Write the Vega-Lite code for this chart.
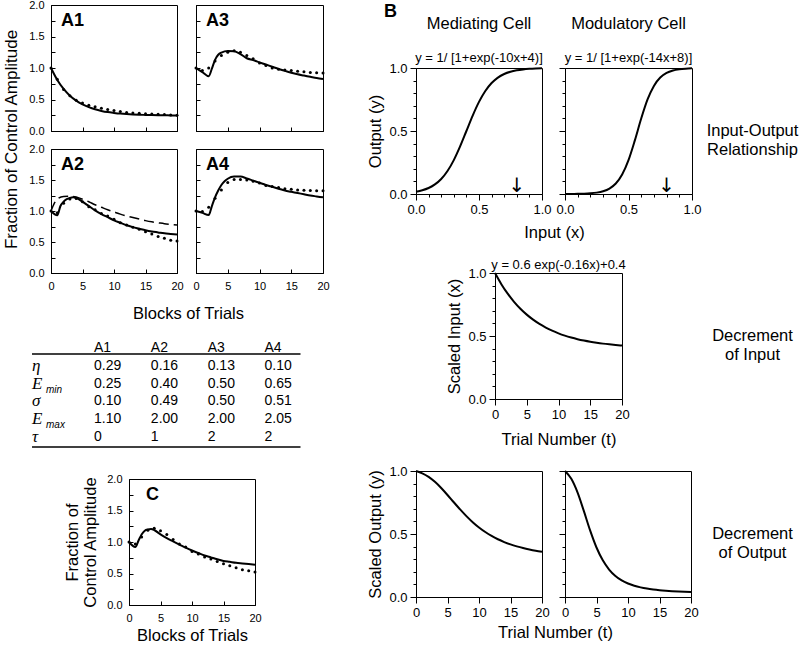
{
"$schema":"https://vega.github.io/schema/vega-lite/v6.json",
"background":"white",
"padding":{"left":2,"top":-2,"right":0,"bottom":0},
"config":{
 "font":"Liberation Sans",
 "view":{"stroke":"black","strokeWidth":1},
 "mark":{"color":"black"},
 "axis":{"domainColor":"black","tickColor":"black","labelColor":"black","titleColor":"black","titleFontWeight":"normal","labelFlush":false,"labelOverlap":false,"grid":false,"labelFont":"Liberation Sans","titleFont":"Liberation Sans"}
},
"datasets":{
 "A1m":[{"t":0,"v":1.0},{"t":1,"v":0.81},{"t":2,"v":0.668},{"t":3,"v":0.561},{"t":4,"v":0.482},{"t":5,"v":0.422},{"t":6,"v":0.378},{"t":7,"v":0.344},{"t":8,"v":0.319},{"t":9,"v":0.3},{"t":10,"v":0.287},{"t":11,"v":0.276},{"t":12,"v":0.268},{"t":13,"v":0.262},{"t":14,"v":0.258},{"t":15,"v":0.255},{"t":16,"v":0.252},{"t":17,"v":0.25},{"t":18,"v":0.249},{"t":19,"v":0.248},{"t":20,"v":0.247}],
 "A1d":[{"t":0,"v":1.0},{"t":1,"v":0.82},{"t":2,"v":0.66},{"t":3,"v":0.56},{"t":4,"v":0.49},{"t":5,"v":0.445},{"t":6,"v":0.41},{"t":7,"v":0.385},{"t":8,"v":0.36},{"t":9,"v":0.34},{"t":10,"v":0.325},{"t":11,"v":0.31},{"t":12,"v":0.295},{"t":13,"v":0.285},{"t":14,"v":0.28},{"t":15,"v":0.275},{"t":16,"v":0.27},{"t":17,"v":0.265},{"t":18,"v":0.26},{"t":19,"v":0.255},{"t":20,"v":0.25}],
 "A3m":[{"t":0,"v":1.0},{"t":1,"v":0.935},{"t":2,"v":0.87},{"t":2.5,"v":0.99},{"t":3,"v":1.13},{"t":3.5,"v":1.21},{"t":4,"v":1.245},{"t":5,"v":1.27},{"t":6,"v":1.265},{"t":7,"v":1.22},{"t":8,"v":1.155},{"t":9,"v":1.125},{"t":10,"v":1.09},{"t":11,"v":1.055},{"t":12,"v":1.02},{"t":13,"v":0.985},{"t":14,"v":0.955},{"t":15,"v":0.925},{"t":16,"v":0.9},{"t":17,"v":0.88},{"t":18,"v":0.86},{"t":19,"v":0.84},{"t":20,"v":0.825}],
 "A3d":[{"t":0,"v":1.0},{"t":1,"v":0.96},{"t":2,"v":1.0},{"t":3,"v":1.11},{"t":4,"v":1.2},{"t":5,"v":1.25},{"t":6,"v":1.275},{"t":7,"v":1.25},{"t":8,"v":1.2},{"t":9,"v":1.145},{"t":10,"v":1.08},{"t":11,"v":1.04},{"t":12,"v":1.0},{"t":13,"v":0.98},{"t":14,"v":0.97},{"t":15,"v":0.96},{"t":16,"v":0.95},{"t":17,"v":0.94},{"t":18,"v":0.93},{"t":19,"v":0.925},{"t":20,"v":0.92}],
 "A2m":[{"t":0,"v":1.0},{"t":1,"v":0.93},{"t":1.5,"v":1.08},{"t":2,"v":1.15},{"t":2.5,"v":1.19},{"t":3,"v":1.21},{"t":3.5,"v":1.22},{"t":4,"v":1.21},{"t":5,"v":1.15},{"t":6,"v":1.08},{"t":7,"v":1.01},{"t":8,"v":0.95},{"t":9,"v":0.9},{"t":10,"v":0.85},{"t":11,"v":0.81},{"t":12,"v":0.77},{"t":13,"v":0.74},{"t":14,"v":0.715},{"t":15,"v":0.69},{"t":16,"v":0.67},{"t":17,"v":0.655},{"t":18,"v":0.64},{"t":19,"v":0.63},{"t":20,"v":0.62}],
 "A2k":[{"t":0,"v":1.0},{"t":0.5,"v":1.12},{"t":1,"v":1.19},{"t":2,"v":1.235},{"t":3,"v":1.24},{"t":4,"v":1.225},{"t":5,"v":1.19},{"t":6,"v":1.15},{"t":7,"v":1.1},{"t":8,"v":1.06},{"t":9,"v":1.02},{"t":10,"v":0.985},{"t":11,"v":0.95},{"t":12,"v":0.92},{"t":13,"v":0.895},{"t":14,"v":0.87},{"t":15,"v":0.845},{"t":16,"v":0.825},{"t":17,"v":0.81},{"t":18,"v":0.795},{"t":19,"v":0.785},{"t":20,"v":0.775}],
 "A2d":[{"t":0,"v":1.0},{"t":1,"v":0.97},{"t":2,"v":1.125},{"t":3,"v":1.195},{"t":4,"v":1.2},{"t":5,"v":1.15},{"t":6,"v":1.07},{"t":7,"v":1.02},{"t":8,"v":0.96},{"t":9,"v":0.92},{"t":10,"v":0.866},{"t":11,"v":0.81},{"t":12,"v":0.775},{"t":13,"v":0.737},{"t":14,"v":0.705},{"t":15,"v":0.667},{"t":16,"v":0.63},{"t":17,"v":0.59},{"t":18,"v":0.56},{"t":19,"v":0.53},{"t":20,"v":0.515}],
 "A4m":[{"t":0,"v":1.0},{"t":1,"v":0.97},{"t":2,"v":0.935},{"t":2.5,"v":1.08},{"t":3,"v":1.22},{"t":3.5,"v":1.33},{"t":4,"v":1.42},{"t":4.5,"v":1.48},{"t":5,"v":1.52},{"t":6,"v":1.555},{"t":7,"v":1.555},{"t":8,"v":1.525},{"t":9,"v":1.49},{"t":10,"v":1.455},{"t":11,"v":1.42},{"t":12,"v":1.39},{"t":13,"v":1.36},{"t":14,"v":1.33},{"t":15,"v":1.31},{"t":16,"v":1.29},{"t":17,"v":1.27},{"t":18,"v":1.25},{"t":19,"v":1.235},{"t":20,"v":1.22}],
 "A4d":[{"t":0,"v":1.0},{"t":1,"v":0.99},{"t":2,"v":1.06},{"t":3,"v":1.205},{"t":4,"v":1.34},{"t":5,"v":1.46},{"t":6,"v":1.51},{"t":7,"v":1.51},{"t":8,"v":1.5},{"t":9,"v":1.48},{"t":10,"v":1.45},{"t":11,"v":1.41},{"t":12,"v":1.395},{"t":13,"v":1.38},{"t":14,"v":1.36},{"t":15,"v":1.35},{"t":16,"v":1.34},{"t":17,"v":1.335},{"t":18,"v":1.33},{"t":19,"v":1.325},{"t":20,"v":1.325}],
 "Cm":[{"t":0,"v":1.0},{"t":1,"v":0.92},{"t":1.5,"v":1.02},{"t":2,"v":1.12},{"t":2.5,"v":1.18},{"t":3,"v":1.2},{"t":3.5,"v":1.206},{"t":4,"v":1.19},{"t":5,"v":1.12},{"t":6,"v":1.06},{"t":7,"v":1.01},{"t":8,"v":0.96},{"t":9,"v":0.91},{"t":10,"v":0.865},{"t":11,"v":0.825},{"t":12,"v":0.785},{"t":13,"v":0.755},{"t":14,"v":0.725},{"t":15,"v":0.7},{"t":16,"v":0.685},{"t":17,"v":0.67},{"t":18,"v":0.66},{"t":19,"v":0.65},{"t":20,"v":0.64}],
 "Cd":[{"t":0,"v":1.0},{"t":1,"v":0.97},{"t":2,"v":1.08},{"t":3,"v":1.185},{"t":4,"v":1.22},{"t":5,"v":1.18},{"t":6,"v":1.12},{"t":7,"v":1.04},{"t":8,"v":0.97},{"t":9,"v":0.92},{"t":10,"v":0.85},{"t":11,"v":0.81},{"t":12,"v":0.76},{"t":13,"v":0.73},{"t":14,"v":0.69},{"t":15,"v":0.655},{"t":16,"v":0.625},{"t":17,"v":0.59},{"t":18,"v":0.56},{"t":19,"v":0.545},{"t":20,"v":0.525}],
 "med":[{"x":0,"y":0.018},{"x":0.05,"y":0.0293},{"x":0.1,"y":0.0474},{"x":0.15,"y":0.0759},{"x":0.2,"y":0.1192},{"x":0.25,"y":0.1824},{"x":0.3,"y":0.2689},{"x":0.35,"y":0.3775},{"x":0.4,"y":0.5},{"x":0.45,"y":0.6225},{"x":0.5,"y":0.7311},{"x":0.55,"y":0.8176},{"x":0.6,"y":0.8808},{"x":0.65,"y":0.9241},{"x":0.7,"y":0.9526},{"x":0.75,"y":0.9707},{"x":0.8,"y":0.982},{"x":0.85,"y":0.989},{"x":0.9,"y":0.9933},{"x":0.95,"y":0.9959},{"x":1,"y":0.9975}],
 "mod":[{"x":0,"y":0.0003},{"x":0.05,"y":0.0007},{"x":0.1,"y":0.0014},{"x":0.15,"y":0.0027},{"x":0.2,"y":0.0055},{"x":0.25,"y":0.011},{"x":0.3,"y":0.0219},{"x":0.35,"y":0.0431},{"x":0.4,"y":0.0832},{"x":0.45,"y":0.1545},{"x":0.5,"y":0.2689},{"x":0.55,"y":0.4256},{"x":0.6,"y":0.5987},{"x":0.65,"y":0.7503},{"x":0.7,"y":0.8581},{"x":0.75,"y":0.9241},{"x":0.8,"y":0.9608},{"x":0.85,"y":0.9802},{"x":0.9,"y":0.99},{"x":0.95,"y":0.995},{"x":1,"y":0.9975}],
 "sin":[{"t":0,"v":1},{"t":1,"v":0.9113},{"t":2,"v":0.8357},{"t":3,"v":0.7713},{"t":4,"v":0.7164},{"t":5,"v":0.6696},{"t":6,"v":0.6297},{"t":7,"v":0.5958},{"t":8,"v":0.5668},{"t":9,"v":0.5421},{"t":10,"v":0.5211},{"t":11,"v":0.5032},{"t":12,"v":0.488},{"t":13,"v":0.4749},{"t":14,"v":0.4639},{"t":15,"v":0.4544},{"t":16,"v":0.4464},{"t":17,"v":0.4395},{"t":18,"v":0.4337},{"t":19,"v":0.4287},{"t":20,"v":0.4245}],
 "outMed":[{"t":0,"v":1},{"t":1,"v":0.9818},{"t":2,"v":0.9533},{"t":3,"v":0.914},{"t":4,"v":0.8651},{"t":5,"v":0.8098},{"t":6,"v":0.7519},{"t":7,"v":0.6952},{"t":8,"v":0.6421},{"t":9,"v":0.5941},{"t":10,"v":0.552},{"t":11,"v":0.5157},{"t":12,"v":0.4847},{"t":13,"v":0.4582},{"t":14,"v":0.4361},{"t":15,"v":0.4173},{"t":16,"v":0.4016},{"t":17,"v":0.3883},{"t":18,"v":0.3772},{"t":19,"v":0.3677},{"t":20,"v":0.3599}],
 "outMod":[{"t":0,"v":1},{"t":1,"v":0.9376},{"t":2,"v":0.8282},{"t":3,"v":0.6811},{"t":4,"v":0.5266},{"t":5,"v":0.3928},{"t":6,"v":0.2908},{"t":7,"v":0.2182},{"t":8,"v":0.1674},{"t":9,"v":0.1321},{"t":10,"v":0.1073},{"t":11,"v":0.0895},{"t":12,"v":0.0765},{"t":13,"v":0.0667},{"t":14,"v":0.0594},{"t":15,"v":0.0537},{"t":16,"v":0.0493},{"t":17,"v":0.0458},{"t":18,"v":0.0431},{"t":19,"v":0.0408},{"t":20,"v":0.039}],
 "params":[
  {"key":"η","sym":"η","sub":"","A1":"0.29","A2":"0.16","A3":"0.13","A4":"0.10"},
  {"key":"Emin","sym":"E","sub":"min","A1":"0.25","A2":"0.40","A3":"0.50","A4":"0.65"},
  {"key":"σ","sym":"σ","sub":"","A1":"0.10","A2":"0.49","A3":"0.50","A4":"0.51"},
  {"key":"Emax","sym":"E","sub":"max","A1":"1.10","A2":"2.00","A3":"2.00","A4":"2.05"},
  {"key":"τ","sym":"τ","sub":"","A1":"0","A2":"1","A3":"2","A4":"2"}
 ],
 "one":[{}]
},
"bounds":"flush",
"spacing":0,
"hconcat":[
 {
  "bounds":"flush",
  "spacing":0,
  "vconcat":[
   {"bounds":"flush","spacing":19,"hconcat":[
    {"width":126,"height":126,"resolve":{"axis":{"x":"independent","y":"independent"}},"layer":[
     {"data":{"name":"A1m"},"mark":{"type":"line","interpolate":"monotone","strokeWidth":2},
      "encoding":{
       "x":{"field":"t","type":"quantitative","scale":{"domain":[0,20],"nice":false},"axis":{"values":[0,5,10,15,20],"labels":false,"tickSize":-4,"labelOverlap":false,"title":null}},
       "y":{"field":"v","type":"quantitative","scale":{"domain":[0,2],"nice":false},"axis":{"values":[0,0.25,0.5,0.75,1,1.25,1.5,1.75,2],"format":".1f","labelExpr":"datum.value % 0.5 === 0 ? datum.label : ''","labelOverlap":false,"tickSize":-4,"labelPadding":11,"labelFontSize":11,"title":"Fraction of Control Amplitude","titleFontSize":17,"titleY":134,"titlePadding":8}}}},
     {"data":{"name":"A1d"},"mark":{"type":"circle","size":9,"opacity":1},
      "encoding":{"x":{"field":"t","type":"quantitative","axis":null},"y":{"field":"v","type":"quantitative","axis":null}}},
     {"data":{"name":"one"},"mark":{"type":"text","text":"A1","fontSize":18,"fontWeight":"bold","align":"left","baseline":"middle","dx":10,"dy":15.5},
      "encoding":{"x":{"datum":0,"axis":null},"y":{"datum":2,"axis":null}}}
    ]},
    {"width":127,"height":126,"resolve":{"axis":{"x":"independent","y":"independent"}},"layer":[
     {"data":{"name":"A3m"},"mark":{"type":"line","interpolate":"monotone","strokeWidth":2},
      "encoding":{
       "x":{"field":"t","type":"quantitative","scale":{"domain":[0,20],"nice":false},"axis":{"values":[0,5,10,15,20],"labels":false,"tickSize":-4,"title":null}},
       "y":{"field":"v","type":"quantitative","scale":{"domain":[0,2],"nice":false},"axis":{"values":[0,0.25,0.5,0.75,1,1.25,1.5,1.75,2],"labels":false,"tickSize":-4,"title":null}}}},
     {"data":{"name":"A3d"},"mark":{"type":"circle","size":9,"opacity":1},
      "encoding":{"x":{"field":"t","type":"quantitative","axis":null},"y":{"field":"v","type":"quantitative","axis":null}}},
     {"data":{"name":"one"},"mark":{"type":"text","text":"A3","fontSize":18,"fontWeight":"bold","align":"left","baseline":"middle","dx":10,"dy":15.5},
      "encoding":{"x":{"datum":0,"axis":null},"y":{"datum":2,"axis":null}}}
    ]}
   ]},
   {"width":1,"height":144,"data":{"values":[]},"mark":"point","view":{"stroke":null}},
   {"bounds":"flush","spacing":19,"hconcat":[
    {"width":126,"height":124,"resolve":{"axis":{"x":"independent","y":"independent"}},"layer":[
     {"data":{"name":"A2m"},"mark":{"type":"line","interpolate":"monotone","strokeWidth":2},
      "encoding":{
       "x":{"field":"t","type":"quantitative","scale":{"domain":[0,20],"nice":false},"axis":{"values":[0,5,10,15,20],"tickSize":-4,"labelPadding":11,"labelFontSize":11,"labelOverlap":false,"title":"Blocks of Trials","titleFontSize":16.5,"titleX":137,"titleY":40,"titleBaseline":"middle"}},
       "y":{"field":"v","type":"quantitative","scale":{"domain":[0,2],"nice":false},"axis":{"values":[0,0.25,0.5,0.75,1,1.25,1.5,1.75,2],"format":".1f","labelExpr":"datum.value % 0.5 === 0 ? datum.label : ''","labelOverlap":false,"tickSize":-4,"labelPadding":11,"labelFontSize":11,"title":null}}}},
     {"data":{"name":"A2k"},"mark":{"type":"line","interpolate":"monotone","strokeWidth":1.5,"strokeDash":[10,5]},
      "encoding":{"x":{"field":"t","type":"quantitative","axis":null},"y":{"field":"v","type":"quantitative","axis":null}}},
     {"data":{"name":"A2d"},"mark":{"type":"circle","size":9,"opacity":1},
      "encoding":{"x":{"field":"t","type":"quantitative","axis":null},"y":{"field":"v","type":"quantitative","axis":null}}},
     {"data":{"name":"one"},"mark":{"type":"text","text":"A2","fontSize":18,"fontWeight":"bold","align":"left","baseline":"middle","dx":10,"dy":15.5},
      "encoding":{"x":{"datum":0,"axis":null},"y":{"datum":2,"axis":null}}}
    ]},
    {"width":127,"height":124,"resolve":{"axis":{"x":"independent","y":"independent"}},"layer":[
     {"data":{"name":"A4m"},"mark":{"type":"line","interpolate":"monotone","strokeWidth":2},
      "encoding":{
       "x":{"field":"t","type":"quantitative","scale":{"domain":[0,20],"nice":false},"axis":{"values":[0,5,10,15,20],"tickSize":-4,"labelPadding":11,"labelFontSize":11,"labelOverlap":false,"title":null}},
       "y":{"field":"v","type":"quantitative","scale":{"domain":[0,2],"nice":false},"axis":{"values":[0,0.25,0.5,0.75,1,1.25,1.5,1.75,2],"labels":false,"tickSize":-4,"title":null}}}},
     {"data":{"name":"A4d"},"mark":{"type":"circle","size":9,"opacity":1},
      "encoding":{"x":{"field":"t","type":"quantitative","axis":null},"y":{"field":"v","type":"quantitative","axis":null}}},
     {"data":{"name":"one"},"mark":{"type":"text","text":"A4","fontSize":18,"fontWeight":"bold","align":"left","baseline":"middle","dx":10,"dy":15.5},
      "encoding":{"x":{"datum":0,"axis":null},"y":{"datum":2,"axis":null}}}
    ]}
   ]},
   {"width":1,"height":190,"data":{"values":[]},"mark":"point","view":{"stroke":null}},
   {"width":250,"height":107,"view":{"stroke":null},"layer":[
     {"data":{"name":"params"},"transform":[{"fold":["A1","A2","A3","A4"],"as":["col","val"]}],
      "mark":{"type":"text","align":"left","baseline":"middle","fontSize":14},
      "encoding":{
       "x":{"field":"col","type":"nominal","scale":{"type":"point","domain":["A1","A2","A3","A4"],"padding":0.6995,"align":0.541},"axis":null},
       "y":{"field":"key","type":"nominal","scale":{"type":"point","domain":["head","η","Emin","σ","Emax","τ"],"padding":0.5},"axis":null},
       "text":{"field":"val"}}},
     {"data":{"name":"params"},"transform":[{"filter":"datum.key === 'Emin'"},{"fold":["A1","A2","A3","A4"],"as":["col","val"]}],
      "mark":{"type":"text","align":"left","baseline":"middle","fontSize":14},
      "encoding":{"x":{"field":"col","type":"nominal","axis":null},"y":{"datum":"head","axis":null},"text":{"field":"col"}}},
     {"data":{"name":"params"},
      "mark":{"type":"text","align":"left","baseline":"middle","font":"Liberation Serif","fontStyle":"italic","fontSize":17,"dx":-62},
      "encoding":{"x":{"datum":"A1","axis":null},"y":{"field":"key","type":"nominal","axis":null},"text":{"field":"sym"}}},
     {"data":{"name":"params"},
      "mark":{"type":"text","align":"left","baseline":"middle","fontStyle":"italic","fontSize":10,"dx":-48,"dy":6},
      "encoding":{"x":{"datum":"A1","axis":null},"y":{"field":"key","type":"nominal","axis":null},"text":{"field":"sub"}}},
     {"data":{"name":"one"},"mark":{"type":"rule","strokeWidth":1.5,"xOffset":-62,"x2Offset":36,"yOffset":6},
      "encoding":{"x":{"datum":"A1","axis":null},"x2":{"datum":"A4"},"y":{"datum":"head","axis":null}}},
     {"data":{"name":"one"},"mark":{"type":"rule","strokeWidth":1.5,"xOffset":-62,"x2Offset":36,"yOffset":10},
      "encoding":{"x":{"datum":"A1","axis":null},"x2":{"datum":"A4"},"y":{"datum":"τ","axis":null}}}
   ]},
   {"width":1,"height":33,"data":{"values":[]},"mark":"point","view":{"stroke":null}},
   {"bounds":"flush","spacing":19,"hconcat":[
    {"width":59,"height":1,"data":{"values":[]},"mark":"point","view":{"stroke":null}},
    {"width":126,"height":126,"resolve":{"axis":{"x":"independent","y":"independent"}},"layer":[
     {"data":{"name":"Cm"},"mark":{"type":"line","interpolate":"monotone","strokeWidth":2},
      "encoding":{
       "x":{"field":"t","type":"quantitative","scale":{"domain":[0,20],"nice":false},"axis":{"values":[0,5,10,15,20],"tickSize":-4,"labelPadding":11,"labelFontSize":11,"labelOverlap":false,"title":"Blocks of Trials","titleFontSize":16.5,"titleY":30,"titleBaseline":"middle"}},
       "y":{"field":"v","type":"quantitative","scale":{"domain":[0,2],"nice":false},"axis":{"values":[0,0.25,0.5,0.75,1,1.25,1.5,1.75,2],"format":".1f","labelExpr":"datum.value % 0.5 === 0 ? datum.label : ''","labelOverlap":false,"tickSize":-4,"labelPadding":11,"labelFontSize":11,"title":["Fraction of","Control Amplitude"],"titleFontSize":16.5,"titleLineHeight":18,"titlePadding":8}}}},
     {"data":{"name":"Cd"},"mark":{"type":"circle","size":9,"opacity":1},
      "encoding":{"x":{"field":"t","type":"quantitative","axis":null},"y":{"field":"v","type":"quantitative","axis":null}}},
     {"data":{"name":"one"},"mark":{"type":"text","text":"C","fontSize":18,"fontWeight":"bold","align":"left","baseline":"middle","dx":17,"dy":15.5},
      "encoding":{"x":{"datum":0,"axis":null},"y":{"datum":2,"axis":null}}}
    ]}
   ]}
  ]
 },
 {"width":365,"height":1,"data":{"values":[]},"mark":"point","view":{"stroke":null}},
 {
  "bounds":"flush",
  "spacing":0,
  "vconcat":[
   {"width":1,"height":63,"data":{"values":[]},"mark":"point","view":{"stroke":null}},
   {"bounds":"flush","spacing":23,"hconcat":[
    {"width":126,"height":126,"resolve":{"axis":{"x":"independent","y":"independent"}},"layer":[
     {"data":{"name":"med"},"mark":{"type":"line","interpolate":"monotone","strokeWidth":2},
      "encoding":{
       "x":{"field":"x","type":"quantitative","scale":{"domain":[0,1],"nice":false},"axis":{"values":[0,0.1,0.2,0.3,0.4,0.5,0.6,0.7,0.8,0.9,1],"format":".1f","labelExpr":"datum.value % 0.5 === 0 ? datum.label : ''","labelOverlap":false,"tickSize":{"condition":{"test":"datum.value % 0.5 === 0","value":6},"value":3},"labelPadding":3,"labelFontSize":13,"title":"Input (x)","titleFontSize":16.5,"titleX":138,"titleY":38,"titleBaseline":"middle"}},
       "y":{"field":"y","type":"quantitative","scale":{"domain":[0,1],"nice":false},"axis":{"values":[0,0.1,0.2,0.3,0.4,0.5,0.6,0.7,0.8,0.9,1],"format":".1f","labelExpr":"datum.value % 0.5 === 0 ? datum.label : ''","labelOverlap":false,"tickSize":{"condition":{"test":"datum.value % 0.5 === 0","value":6},"value":3},"labelPadding":3,"labelFontSize":13,"title":"Output (y)","titleFontSize":16.5,"titlePadding":5}}}},
     {"data":{"name":"one"},"mark":{"type":"text","text":"↓","font":"DejaVu Sans","fontSize":20,"baseline":"alphabetic","dy":-2},
      "encoding":{"x":{"datum":0.8,"axis":null},"y":{"datum":0,"axis":null}}},
     {"data":{"name":"one"},"mark":{"type":"text","text":"B","fontSize":18,"fontWeight":"bold","align":"left","baseline":"middle","dx":-32,"dy":-56.5},
      "encoding":{"x":{"datum":0,"axis":null},"y":{"datum":1,"axis":null}}},
     {"data":{"name":"one"},"mark":{"type":"text","text":"Mediating Cell","fontSize":16.5,"baseline":"middle","dy":-44},
      "encoding":{"x":{"datum":0.5,"axis":null},"y":{"datum":1,"axis":null}}},
     {"data":{"name":"one"},"mark":{"type":"text","text":"y = 1/ [1+exp(-10x+4)]","fontSize":13,"baseline":"middle","dy":-10},
      "encoding":{"x":{"datum":0.5,"axis":null},"y":{"datum":1,"axis":null}}}
    ]},
    {"width":127,"height":126,"resolve":{"axis":{"x":"independent","y":"independent"}},"layer":[
     {"data":{"name":"mod"},"mark":{"type":"line","interpolate":"monotone","strokeWidth":2},
      "encoding":{
       "x":{"field":"x","type":"quantitative","scale":{"domain":[0,1],"nice":false},"axis":{"values":[0,0.1,0.2,0.3,0.4,0.5,0.6,0.7,0.8,0.9,1],"format":".1f","labelExpr":"datum.value % 0.5 === 0 ? datum.label : ''","labelOverlap":false,"tickSize":{"condition":{"test":"datum.value % 0.5 === 0","value":6},"value":3},"labelPadding":3,"labelFontSize":13,"title":null}},
       "y":{"field":"y","type":"quantitative","scale":{"domain":[0,1],"nice":false},"axis":{"values":[0,0.1,0.2,0.3,0.4,0.5,0.6,0.7,0.8,0.9,1],"labels":false,"tickSize":{"condition":{"test":"datum.value % 0.5 === 0","value":6},"value":3},"title":null}}}},
     {"data":{"name":"one"},"mark":{"type":"text","text":"↓","font":"DejaVu Sans","fontSize":20,"baseline":"alphabetic","dy":-2},
      "encoding":{"x":{"datum":0.8,"axis":null},"y":{"datum":0,"axis":null}}},
     {"data":{"name":"one"},"mark":{"type":"text","text":"Modulatory Cell","fontSize":16.5,"baseline":"middle","dy":-44},
      "encoding":{"x":{"datum":0.5,"axis":null},"y":{"datum":1,"axis":null}}},
     {"data":{"name":"one"},"mark":{"type":"text","text":"y = 1/ [1+exp(-14x+8)]","fontSize":13,"baseline":"middle","dy":-10},
      "encoding":{"x":{"datum":0.5,"axis":null},"y":{"datum":1,"axis":null}}},
     {"data":{"name":"one"},"mark":{"type":"text","text":["Input-Output","Relationship"],"fontSize":16.5,"lineHeight":19,"baseline":"middle","dx":60.5},
      "encoding":{"x":{"datum":1,"axis":null},"y":{"datum":0.5,"axis":null}}}
    ]}
   ]},
   {"width":1,"height":205,"data":{"values":[]},"mark":"point","view":{"stroke":null}},
   {"bounds":"flush","spacing":23,"hconcat":[
    {"width":56,"height":1,"data":{"values":[]},"mark":"point","view":{"stroke":null}},
    {"width":127,"height":126,"resolve":{"axis":{"x":"independent","y":"independent"}},"layer":[
     {"data":{"name":"sin"},"mark":{"type":"line","interpolate":"monotone","strokeWidth":2},
      "encoding":{
       "x":{"field":"t","type":"quantitative","scale":{"domain":[0,20],"nice":false},"axis":{"values":[0,5,10,15,20],"tickSize":6,"labelPadding":3,"labelFontSize":13,"labelOverlap":false,"title":"Trial Number (t)","titleFontSize":16.5,"titleY":40,"titleBaseline":"middle"}},
       "y":{"field":"v","type":"quantitative","scale":{"domain":[0,1],"nice":false},"axis":{"values":[0,0.1,0.2,0.3,0.4,0.5,0.6,0.7,0.8,0.9,1],"format":".1f","labelExpr":"datum.value % 0.5 === 0 ? datum.label : ''","labelOverlap":false,"tickSize":{"condition":{"test":"datum.value % 0.5 === 0","value":6},"value":3},"labelPadding":3,"labelFontSize":13,"title":"Scaled Input (x)","titleFontSize":16.5,"titlePadding":5}}}},
     {"data":{"name":"one"},"mark":{"type":"text","text":"y = 0.6 exp(-0.16x)+0.4","fontSize":13,"baseline":"middle","dy":-8},
      "encoding":{"x":{"datum":10,"axis":null},"y":{"datum":1,"axis":null}}},
     {"data":{"name":"one"},"mark":{"type":"text","text":["Decrement","of Input"],"fontSize":16.5,"lineHeight":19,"baseline":"middle","dx":130.5},
      "encoding":{"x":{"datum":20,"axis":null},"y":{"datum":0.5,"axis":null}}}
    ]}
   ]},
   {"width":1,"height":198,"data":{"values":[]},"mark":"point","view":{"stroke":null}},
   {"bounds":"flush","spacing":23,"hconcat":[
    {"width":126,"height":126,"layer":[
     {"data":{"name":"outMed"},"mark":{"type":"line","interpolate":"monotone","strokeWidth":2},
      "encoding":{
       "x":{"field":"t","type":"quantitative","scale":{"domain":[0,20],"nice":false},"axis":{"values":[0,5,10,15,20],"tickSize":6,"labelPadding":3,"labelFontSize":13,"labelOverlap":false,"title":"Trial Number (t)","titleFontSize":16.5,"titleX":139,"titleY":35,"titleBaseline":"middle"}},
       "y":{"field":"v","type":"quantitative","scale":{"domain":[0,1],"nice":false},"axis":{"values":[0,0.1,0.2,0.3,0.4,0.5,0.6,0.7,0.8,0.9,1],"format":".1f","labelExpr":"datum.value % 0.5 === 0 ? datum.label : ''","labelOverlap":false,"tickSize":{"condition":{"test":"datum.value % 0.5 === 0","value":6},"value":3},"labelPadding":3,"labelFontSize":13,"title":"Scaled Output (y)","titleFontSize":16.5,"titlePadding":5}}}}
    ]},
    {"width":126,"height":126,"resolve":{"axis":{"x":"independent","y":"independent"}},"layer":[
     {"data":{"name":"outMod"},"mark":{"type":"line","interpolate":"monotone","strokeWidth":2},
      "encoding":{
       "x":{"field":"t","type":"quantitative","scale":{"domain":[0,20],"nice":false},"axis":{"values":[0,5,10,15,20],"tickSize":6,"labelPadding":3,"labelFontSize":13,"labelOverlap":false,"title":null}},
       "y":{"field":"v","type":"quantitative","scale":{"domain":[0,1],"nice":false},"axis":{"values":[0,0.1,0.2,0.3,0.4,0.5,0.6,0.7,0.8,0.9,1],"labels":false,"tickSize":{"condition":{"test":"datum.value % 0.5 === 0","value":6},"value":3},"title":null}}}},
     {"data":{"name":"one"},"mark":{"type":"text","text":["Decrement","of Output"],"fontSize":16.5,"lineHeight":19,"baseline":"middle","dx":61.5},
      "encoding":{"x":{"datum":20,"axis":null},"y":{"datum":0.5,"axis":null}}}
    ]}
   ]}
  ]
 }
]
}
